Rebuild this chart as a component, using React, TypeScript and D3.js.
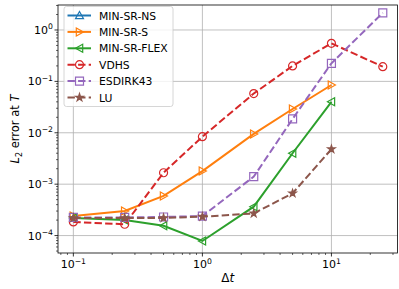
import React from 'react';
import * as d3 from 'd3';

// time step sizes
const dts = [0.1, 0.25, 0.5, 1, 2.5, 5, 10, 25];

// L2 error at T per method (null = no point)
const minSrNs: (number | null)[] = [null, null, null, null, null, null, null, null];
const minSrS: (number | null)[] = [2.4e-4, 3.0e-4, 5.9e-4, 1.8e-3, 9.5e-3, 0.029, 0.085, null];
const minSrFlex: (number | null)[] = [2.2e-4, 2.0e-4, 1.55e-4, 7.85e-5, 3.65e-4, 4.0e-3, 0.04, null];
const vdhs: (number | null)[] = [1.84e-4, 1.66e-4, 1.67e-3, 8.4e-3, 0.058, 0.2, 0.55, 0.193];
const esdirk43: (number | null)[] = [2.25e-4, 2.25e-4, 2.3e-4, 2.4e-4, 1.4e-3, 0.0186, 0.225, 2.15];
const lu: (number | null)[] = [2.2e-4, 2.2e-4, 2.2e-4, 2.33e-4, 2.7e-4, 6.65e-4, 4.8e-3, null];

const xTicks = [0.1, 1, 10];
const xTickExp = ['\u22121', '0', '1'];
const yTicks = [1e-4, 1e-3, 1e-2, 1e-1, 1];
const yTickExp = ['\u22124', '\u22123', '\u22122', '\u22121', '0'];

type Marker = 'up' | 'right' | 'left' | 'circle' | 'square' | 'star';

const series: { name: string; color: string; dashed: boolean; marker: Marker; values: (number | null)[] }[] = [
  { name: 'MIN-SR-NS', color: '#1f77b4', dashed: false, marker: 'up', values: minSrNs },
  { name: 'MIN-SR-S', color: '#ff7f0e', dashed: false, marker: 'right', values: minSrS },
  { name: 'MIN-SR-FLEX', color: '#2ca02c', dashed: false, marker: 'left', values: minSrFlex },
  { name: 'VDHS', color: '#d62728', dashed: true, marker: 'circle', values: vdhs },
  { name: 'ESDIRK43', color: '#9467bd', dashed: true, marker: 'square', values: esdirk43 },
  { name: 'LU', color: '#8c564b', dashed: true, marker: 'star', values: lu },
];

const W = 399, H = 289;
const left = 58, right = 397.5, top = 5, bottom = 253;

const font = 'DejaVu Sans, sans-serif';

function markerPath(m: Marker, r: number): string {
  if (m === 'circle') return d3.symbol(d3.symbolCircle, Math.PI * r * r)()!;
  if (m === 'square') return `M${-r},${-r}H${r}V${r}H${-r}Z`;
  if (m === 'star') return d3.symbol(d3.symbolStar, r * r * 1.1)()!;
  const pts: [number, number][] =
    m === 'up' ? [[0, -r], [r, r * 0.8], [-r, r * 0.8]]
    : m === 'right' ? [[r, 0], [-r * 0.8, r], [-r * 0.8, -r]]
    : [[-r, 0], [r * 0.8, r], [r * 0.8, -r]];
  return 'M' + pts.map(p => p.join(',')).join('L') + 'Z';
}

function minorTicks(lo: number, hi: number): number[] {
  const out: number[] = [];
  for (let e = Math.floor(Math.log10(lo)); e <= Math.ceil(Math.log10(hi)); e++) {
    for (let k = 2; k <= 9; k++) {
      const v = k * Math.pow(10, e);
      if (v >= lo && v <= hi) out.push(v);
    }
  }
  return out;
}

export default function App() {
  const x = d3.scaleLog().domain([Math.pow(10, -1.119), Math.pow(10, 1.512)]).range([left, right]);
  const y = d3.scaleLog().domain([Math.pow(10, -4.339), Math.pow(10, 0.486)]).range([bottom, top]);

  const line = d3.line<[number, number | null]>()
    .defined(d => d[1] != null)
    .x(d => x(d[0]))
    .y(d => y(d[1] as number));

  const xMinor = minorTicks(x.domain()[0], x.domain()[1]);
  const yMinor = minorTicks(y.domain()[0], y.domain()[1]);

  const lgX = 64, lgY = 6.5, lgW = 109, lgH = 100, lgStep = 16.4;

  return (
    <svg width={W} height={H} style={{ position: 'absolute', left: 0, top: 0 }} fontFamily={font}>
      <rect width={W} height={H} fill="#fff" />
      {/* grid */}
      {xTicks.map(t => (
        <line key={'gx' + t} x1={x(t)} x2={x(t)} y1={top} y2={bottom} stroke="#b0b0b0" strokeWidth={0.8} />
      ))}
      {yTicks.map(t => (
        <line key={'gy' + t} x1={left} x2={right} y1={y(t)} y2={y(t)} stroke="#b0b0b0" strokeWidth={0.8} />
      ))}
      {/* series */}
      {series.map(s => {
        const pts = dts.map((d, i) => [d, s.values[i]] as [number, number | null]);
        const mp = markerPath(s.marker, 4);
        return (
          <g key={s.name}>
            <path d={line(pts) || ''} fill="none" stroke={s.color} strokeWidth={2}
              strokeDasharray={s.dashed ? '7.4,3.2' : undefined} />
            {pts.filter(p => p[1] != null).map((p, i) => (
              <path key={i} d={mp} transform={`translate(${x(p[0])},${y(p[1] as number)})`}
                fill={s.marker === 'star' ? s.color : 'none'} stroke={s.color} strokeWidth={1.2} />
            ))}
          </g>
        );
      })}
      {/* frame */}
      <rect x={left} y={top} width={right - left} height={bottom - top} fill="none" stroke="#000" strokeWidth={0.8} />
      {/* x ticks */}
      {xTicks.map((t, i) => (
        <g key={'xt' + t}>
          <line x1={x(t)} x2={x(t)} y1={bottom} y2={bottom + 3.5} stroke="#000" strokeWidth={0.8} />
          <text x={x(t)} y={bottom + 15} textAnchor="middle" fontSize={11} fill="#000">
            10<tspan fontSize={7.7} dy={-4.5}>{xTickExp[i]}</tspan>
          </text>
        </g>
      ))}
      {xMinor.map(t => (
        <line key={'xm' + t} x1={x(t)} x2={x(t)} y1={bottom} y2={bottom + 2} stroke="#000" strokeWidth={0.6} />
      ))}
      {/* y ticks */}
      {yTicks.map((t, i) => (
        <g key={'yt' + t}>
          <line x1={left - 3.5} x2={left} y1={y(t)} y2={y(t)} stroke="#000" strokeWidth={0.8} />
          <text x={left - 5} y={y(t) + 4} textAnchor="end" fontSize={11} fill="#000">
            10<tspan fontSize={7.7} dy={-4.5}>{yTickExp[i]}</tspan>
          </text>
        </g>
      ))}
      {yMinor.map(t => (
        <line key={'ym' + t} x1={left - 2} x2={left} y1={y(t)} y2={y(t)} stroke="#000" strokeWidth={0.6} />
      ))}
      {/* axis labels */}
      <text x={(left + right) / 2} y={282} textAnchor="middle" fontSize={12} fill="#000">
        Δ<tspan fontStyle="italic">t</tspan>
      </text>
      <text transform={`translate(19,${(top + bottom) / 2}) rotate(-90)`} textAnchor="middle" fontSize={11.5} fill="#000">
        <tspan fontStyle="italic">L</tspan><tspan fontSize={8} dy={3}>2</tspan>
        <tspan dy={-3}> error at </tspan><tspan fontStyle="italic">T</tspan>
      </text>
      {/* legend */}
      <rect x={lgX} y={lgY} width={lgW} height={lgH} rx={2.5} fill="#fff" fillOpacity={0.8} stroke="#cccccc" strokeWidth={0.8} />
      {series.map((s, i) => {
        const cy = lgY + 9 + i * lgStep;
        return (
          <g key={'lg' + s.name}>
            <line x1={lgX + 3.5} x2={lgX + 27} y1={cy} y2={cy} stroke={s.color} strokeWidth={2}
              strokeDasharray={s.dashed ? '7.4,3.2' : undefined} />
            <path d={markerPath(s.marker, 4)} transform={`translate(${lgX + 15.5},${cy})`}
              fill={s.marker === 'star' ? s.color : 'none'} stroke={s.color} strokeWidth={1.2} />
            <text x={lgX + 35} y={cy + 4} fontSize={10.8} fill="#000">{s.name}</text>
          </g>
        );
      })}
    </svg>
  );
}
